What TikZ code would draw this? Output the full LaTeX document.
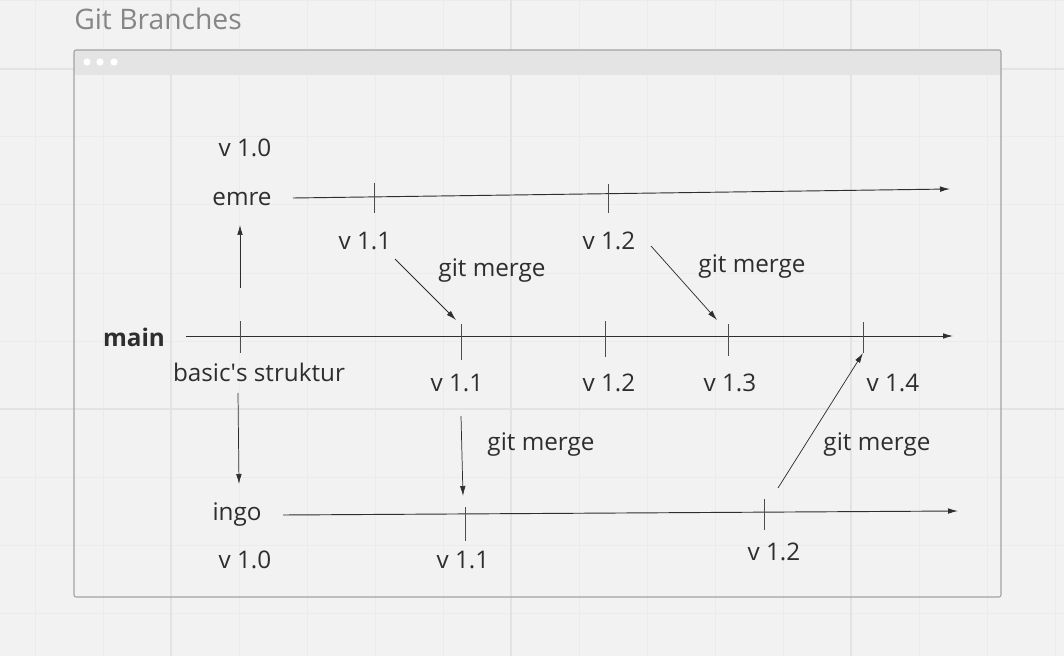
\documentclass[tikz,border=0pt]{standalone}
\usepackage{fontspec}
\setmainfont{Open Sans}
\usetikzlibrary{arrows.meta}

\definecolor{paper}{HTML}{F2F2F2}
\definecolor{minorline}{HTML}{EBEBEB}
\definecolor{majorline}{HTML}{E3E3E3}
\definecolor{framegray}{HTML}{A3A3A3}
\definecolor{bargray}{HTML}{E4E4E4}
\definecolor{ink}{HTML}{2E2E2E}

\tikzset{
    branch/.style={draw=ink, line width=0.7pt, -{Latex[length=7.5pt,width=4.2pt]}},
    merge/.style={draw=ink, line width=0.55pt, -{Latex[length=7.5pt,width=4.2pt]}},
    tick/.style={draw=ink!85, line width=0.55pt},
    lbl/.style={text=ink, inner sep=1pt, font=\fontsize{18.2}{22}\selectfont},
}

\begin{document}
\begin{tikzpicture}[x=0.75pt, y=-0.75pt]
    \useasboundingbox (0,0) rectangle (1064,656);
    \fill[paper] (0,0) rectangle (1064,656);

    % board grid
    \foreach \gx in {35,103,...,1055} \draw[minorline, line width=0.75pt] (\gx,0) -- (\gx,656);
    \foreach \gy in {1,69,...,613} \draw[minorline, line width=0.75pt] (0,\gy) -- (1064,\gy);
    \foreach \gx in {171,511,851} \draw[majorline, line width=1.4pt] (\gx,0) -- (\gx,656);
    \foreach \gy in {69,409} \draw[majorline, line width=1.4pt] (0,\gy) -- (1064,\gy);

    % frame with title bar
    \node[anchor=west, text=gray!95, inner sep=0pt, font=\fontsize{21.2}{25}\selectfont] (title) at (74,19) {Git Branches};
    \fill[bargray] (74,50) rectangle (1001,75);
    \draw[framegray, line width=0.8pt, rounded corners=1.5pt] (74,50) rectangle (1001,597);
    \foreach \dx in {87,100,114} \fill[white] (\dx,62) circle (3.6);

    % branch names
    \node[lbl] (emre) at (242,199) {emre};
    \node[lbl, font=\fontsize{18.2}{22}\selectfont\bfseries] (main) at (134,337) {main};
    \node[lbl] (ingo) at (237,515) {ingo};

    % branch lines
    \coordinate (emre-a) at (293,198);
    \coordinate (emre-b) at (950,189);
    \coordinate (main-a) at (186,336);
    \coordinate (main-b) at (953,336);
    \coordinate (ingo-a) at (283,515);
    \coordinate (ingo-b) at (958,511);
    \draw[branch] (emre-a) -- (emre-b);
    \draw[branch] (main-a) -- (main-b);
    \draw[branch] (ingo-a) -- (ingo-b);

    % commit ticks
    \foreach \tx/\ta/\tb in {374/183/213, 608/184/213,
                             240/321/353, 461/324/360, 605/321/357, 728/324/356, 863/322/353,
                             465/507/541, 764/499/530}
        \draw[tick] (\tx,\ta) -- (\tx,\tb);

    % version labels
    \node[lbl] (emre-v10) at (245,148) {v 1.0};
    \node[lbl] (emre-v11) at (365,241) {v 1.1};
    \node[lbl] (emre-v12) at (609,241) {v 1.2};
    \node[lbl] (base) at (259,372) {basic\textquotesingle s struktur};
    \node[lbl] (main-v11) at (457,383) {v 1.1};
    \node[lbl] (main-v12) at (609,383) {v 1.2};
    \node[lbl] (main-v13) at (730,383) {v 1.3};
    \node[lbl] (main-v14) at (893,383) {v 1.4};
    \node[lbl] (ingo-v10) at (245,560) {v 1.0};
    \node[lbl] (ingo-v11) at (463,560) {v 1.1};
    \node[lbl] (ingo-v12) at (774,552) {v 1.2};

    % branching off main
    \coordinate (up-a) at (240,288);
    \coordinate (up-b) at (240,225);
    \coordinate (down-a) at (238,393);
    \coordinate (down-b) at (239,484);
    \draw[merge] (up-a) -- (up-b);
    \draw[merge] (down-a) -- (down-b);

    % merges
    \coordinate (m1-a) at (395,259);
    \coordinate (m1-b) at (456,320);
    \coordinate (m2-a) at (651,246);
    \coordinate (m2-b) at (717,320);
    \coordinate (m3-a) at (461,416);
    \coordinate (m3-b) at (463,496);
    \coordinate (m4-a) at (778,488);
    \coordinate (m4-b) at (863,353);
    \draw[merge] (m1-a) -- (m1-b);
    \draw[merge] (m2-a) -- (m2-b);
    \draw[merge] (m3-a) -- (m3-b);
    \draw[merge] (m4-a) -- (m4-b);
    \node[lbl] (m1-lbl) at (492,271) {git merge};
    \node[lbl] (m2-lbl) at (752,267) {git merge};
    \node[lbl] (m3-lbl) at (541,445) {git merge};
    \node[lbl] (m4-lbl) at (877,445) {git merge};
\end{tikzpicture}
\end{document}
